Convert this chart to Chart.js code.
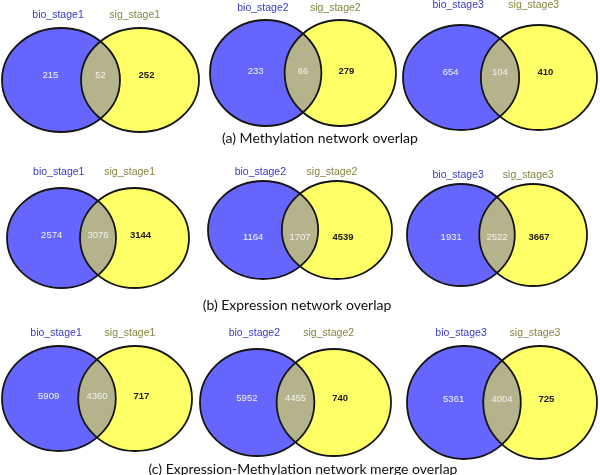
<!DOCTYPE html>
<html lang="en">
<head>
    <meta charset="UTF-8">
    <title>Network overlap</title>
    <script src="https://cdn.jsdelivr.net/npm/chart.js"></script>
    <style>
        html, body { margin: 0; padding: 0; background: #fff; }
        #figure { position: relative; width: 600px; height: 475px; overflow: hidden; }
        .panel { position: absolute; }
        .caption {
            position: absolute;
            font-family: Lato, 'Open Sans', sans-serif;
            font-size: 14px;
            color: #111;
            white-space: nowrap;
            transform: translate(-50%, -50%);
        }
    </style>
</head>
<body>
    <div id="figure"></div>

    <script>
        // Set names
        const bioLabels = ['bio_stage1', 'bio_stage2', 'bio_stage3'];
        const sigLabels = ['sig_stage1', 'sig_stage2', 'sig_stage3'];

        // (a) Methylation network overlap
        const methBioOnly = [215, 233, 654];
        const methShared = [52, 66, 104];
        const methSigOnly = [252, 279, 410];

        // (b) Expression network overlap
        const exprBioOnly = [2574, 1164, 1931];
        const exprShared = [3076, 1707, 2522];
        const exprSigOnly = [3144, 4539, 3667];

        // (c) Expression-Methylation network merge overlap
        const mergeBioOnly = [5909, 5952, 5361];
        const mergeShared = [4360, 4455, 4004];
        const mergeSigOnly = [717, 740, 725];

        const captions = [
            '(a) Methylation network overlap',
            '(b) Expression network overlap',
            '(c) Expression-Methylation network merge overlap'
        ];

        const rows = [
            { bioOnly: methBioOnly, shared: methShared, sigOnly: methSigOnly },
            { bioOnly: exprBioOnly, shared: exprShared, sigOnly: exprSigOnly },
            { bioOnly: mergeBioOnly, shared: mergeShared, sigOnly: mergeSigOnly }
        ];

        // Layout: bounding box of the two circles in each panel [left, right, top, bottom] (px)
        const panelBoxes = [
            [[2, 199, 28, 132], [210, 396, 20, 126], [403, 597, 25, 130]],
            [[7, 189, 188, 288], [208, 392, 181, 279], [407, 587, 184, 286]],
            [[2, 192, 346, 451], [200, 391, 349, 456], [407, 597, 346, 459]]
        ];
        // Height of set names and counts, in circle radii
        const labelRise = [[1.25, 1.23, 1.38], [1.32, 1.18, 1.18], [1.25, 1.3, 1.23]];
        const numberLift = [[0.08, 0.04, 0.09], [0.06, -0.15, -0.04], [0.05, 0.07, 0.06]];
        const captionPos = [[320, 137], [297, 304], [303, 468]];

        const centerOffset = 0.67;   // circle centres at +-0.67 radii
        const pad = 3;

        const blueFill = '#6666ff';
        const yellowFill = '#ffff66';
        const sharedFill = '#b5b38b';

        function ellipsePath(ctx, e) {
            ctx.beginPath();
            ctx.ellipse(e.cx, e.cy, e.rx, e.ry, 0, 0, Math.PI * 2);
        }

        // Draws the two sets as circles in data space, so the scales give their size
        const vennPlugin = {
            id: 'venn',
            afterDatasetsDraw(chart, args, opts) {
                const ctx = chart.ctx;
                const xs = chart.scales.x;
                const ys = chart.scales.y;
                const ells = chart.data.datasets.map(ds => {
                    const p = ds.data[0];
                    const cx = xs.getPixelForValue(p.x);
                    const cy = ys.getPixelForValue(p.y);
                    return {
                        cx, cy,
                        rx: Math.abs(xs.getPixelForValue(p.x + ds.setRadius) - cx),
                        ry: Math.abs(ys.getPixelForValue(p.y + ds.setRadius) - cy),
                        fill: ds.backgroundColor
                    };
                });

                ctx.save();
                ells.forEach(e => {
                    ellipsePath(ctx, e);
                    ctx.fillStyle = e.fill;
                    ctx.fill();
                });
                // shared region
                ctx.save();
                ellipsePath(ctx, ells[0]);
                ctx.clip();
                ellipsePath(ctx, ells[1]);
                ctx.fillStyle = opts.sharedColor;
                ctx.fill();
                ctx.restore();

                ctx.lineWidth = 1.8;
                ctx.strokeStyle = '#151515';
                ells.forEach(e => {
                    ellipsePath(ctx, e);
                    ctx.stroke();
                });

                // counts
                ctx.textAlign = 'center';
                ctx.textBaseline = 'middle';
                opts.counts.forEach(c => {
                    ctx.font = (c.bold ? 'bold ' : '') + "9.5px 'Liberation Sans', Arial, sans-serif";
                    ctx.fillStyle = c.color;
                    ctx.fillText(String(c.value), xs.getPixelForValue(c.x), ys.getPixelForValue(opts.numberY));
                });

                // set names
                ctx.font = "10.5px 'Liberation Sans', Arial, sans-serif";
                chart.data.datasets.forEach(ds => {
                    ctx.fillStyle = ds.labelColor;
                    ctx.fillText(ds.label, xs.getPixelForValue(ds.labelX), ys.getPixelForValue(opts.labelY));
                });
                ctx.restore();
            }
        };

        const figure = document.getElementById('figure');

        function createVenn(r, c) {
            const box = panelBoxes[r][c];
            const ry = (box[3] - box[2]) / 2;
            const topPad = Math.ceil((labelRise[r][c] - 1) * ry) + 12;
            const w = box[1] - box[0] + 2 * pad;
            const h = box[3] - box[2] + topPad + pad;

            const div = document.createElement('div');
            div.className = 'panel';
            div.style.left = (box[0] - pad) + 'px';
            div.style.top = (box[2] - topPad) + 'px';
            const canvas = document.createElement('canvas');
            canvas.width = w;
            canvas.height = h;
            div.appendChild(canvas);
            figure.appendChild(div);

            const row = rows[r];
            new Chart(canvas.getContext('2d'), {
                type: 'scatter',
                data: {
                    datasets: [{
                        label: bioLabels[c],
                        data: [{ x: -centerOffset, y: 0 }],
                        setRadius: 1,
                        backgroundColor: blueFill,
                        labelColor: '#3a3ac8',
                        labelX: -0.72,
                        pointRadius: 0
                    }, {
                        label: sigLabels[c],
                        data: [{ x: centerOffset, y: 0 }],
                        setRadius: 1,
                        backgroundColor: yellowFill,
                        labelColor: '#85853f',
                        labelX: 0.58,
                        pointRadius: 0
                    }]
                },
                options: {
                    responsive: false,
                    animation: false,
                    events: [],
                    layout: { padding: { left: pad, right: pad, top: topPad, bottom: pad } },
                    scales: {
                        x: { type: 'linear', min: -1 - centerOffset, max: 1 + centerOffset, display: false },
                        y: { type: 'linear', min: -1, max: 1, display: false }
                    },
                    plugins: {
                        legend: { display: false },
                        tooltip: { enabled: false },
                        venn: {
                            sharedColor: sharedFill,
                            numberY: numberLift[r][c],
                            labelY: labelRise[r][c],
                            counts: [
                                { value: row.bioOnly[c], x: -0.85, color: '#f2f2f2', bold: false },
                                { value: row.shared[c], x: 0, color: '#f2f2f2', bold: false },
                                { value: row.sigOnly[c], x: 0.78, color: '#1a1a1a', bold: true }
                            ]
                        }
                    }
                },
                plugins: [vennPlugin]
            });
        }

        for (let r = 0; r < 3; r++) {
            for (let c = 0; c < 3; c++) {
                createVenn(r, c);
            }
            const cap = document.createElement('div');
            cap.className = 'caption';
            cap.textContent = captions[r];
            cap.style.left = captionPos[r][0] + 'px';
            cap.style.top = captionPos[r][1] + 'px';
            figure.appendChild(cap);
        }
    </script>
</body>
</html>
